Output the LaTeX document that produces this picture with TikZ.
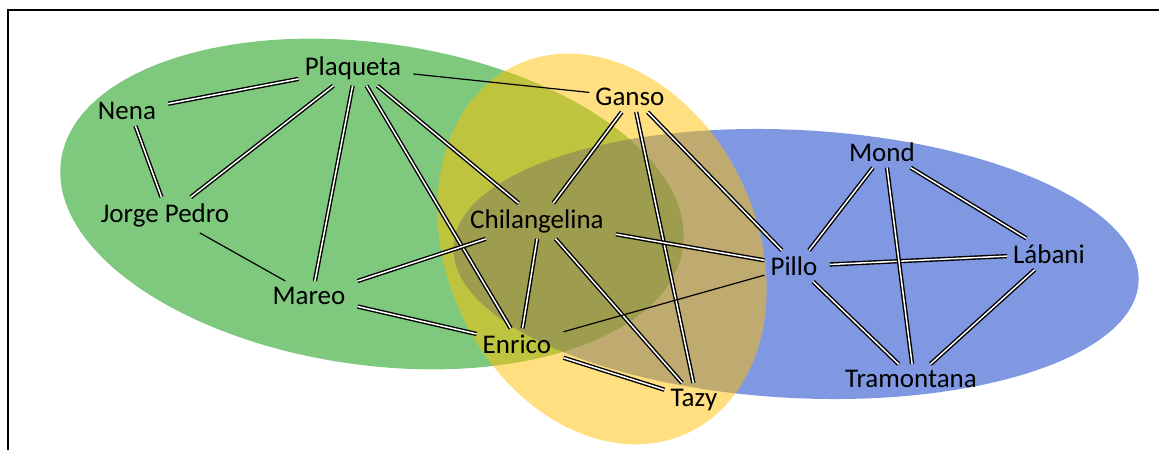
\documentclass[tikz,border=0pt]{standalone}
\usepackage{fontspec}
\setmainfont{Carlito}
\definecolor{greenset}{RGB}{0,148,0}
\definecolor{blueset}{RGB}{0,50,195}
\definecolor{yellowset}{RGB}{255,192,0}

\begin{document}
\begin{tikzpicture}[
	x=1pt, y=1pt,
	nodes = {
		align = center
	},
	person/.style={
		font=\fontsize{27}{31}\selectfont,
		inner sep=6pt
	},
	tie/.style={
		line width=1.4pt,
		double=white,
		double distance=1.5pt
	},
	link/.style={
		line width=1.2pt
	},
	group/.style={
		fill opacity=0.5
	}
]
	\useasboundingbox (0,0) rectangle (1159,450);
	\draw[line width=2pt] (8,0) -- (8,440) -- (1159,440);

	\fill[group, fill=greenset, rotate around={-8:(372,246)}]
		(372,246) ellipse [x radius=314, y radius=161];
	\fill[group, fill=blueset, rotate around={-3:(796,186)}]
		(796,186) ellipse [x radius=343, y radius=134];
	\fill[group, fill=yellowset, rotate around={25:(602,201)}]
		(602,201) ellipse [x radius=155, y radius=203];

	\node[person] (plaqueta) at (356,382) {
		Plaqueta
	};
	\node[person] (nena) at (130,339) {
		Nena
	};
	\node[person] (jorge_pedro) at (168,235) {
		Jorge Pedro
	};
	\node[person] (mareo) at (312,154) {
		Mareo
	};
	\node[person] (ganso) at (633,353) {
		Ganso
	};
	\node[person] (chilangelina) at (540,229) {
		Chilangelina
	};
	\node[person] (enrico) at (520,106) {
		Enrico
	};
	\node[person] (tazy) at (697,50) {
		Tazy
	};
	%%
	\node[person] (pillo) at (797,184) {
		Pillo
	};
	\node[person] (mond) at (885,298) {
		Mond
	};
	\node[person] (labani) at (1052,196) {
		Lábani
	};
	\node[person] (tramontana) at (914,71) {
		Tramontana
	};

	\draw[tie] (nena) -- (plaqueta);
	\draw[tie] (nena) -- (jorge_pedro);
	\draw[tie] (plaqueta) -- (jorge_pedro);
	\draw[tie] (plaqueta) -- (mareo);
	\draw[tie] (plaqueta) -- (enrico);
	\draw[tie] (plaqueta) -- (chilangelina);
	\draw[link] (plaqueta) -- (ganso);
	\draw[link] (jorge_pedro) -- (mareo);
	\draw[tie] (mareo) -- (chilangelina);
	\draw[tie] (mareo) -- (enrico);

	\draw[tie] (ganso) -- (chilangelina);
	\draw[tie] (ganso) -- (tazy);
	\draw[tie] (ganso) -- (pillo);
	\draw[tie] (chilangelina) -- (enrico);
	\draw[tie] (chilangelina) -- (tazy);
	\draw[tie] (chilangelina) -- (pillo);
	\draw[tie] (enrico) -- (tazy);
	\draw[link] (enrico) -- (pillo);

	\draw[tie] (pillo) -- (mond);
	\draw[tie] (pillo) -- (labani);
	\draw[tie] (pillo) -- (tramontana);
	\draw[tie] (mond) -- (labani);
	\draw[tie] (mond) -- (tramontana);
	\draw[tie] (labani) -- (tramontana);
\end{tikzpicture}
\end{document}
